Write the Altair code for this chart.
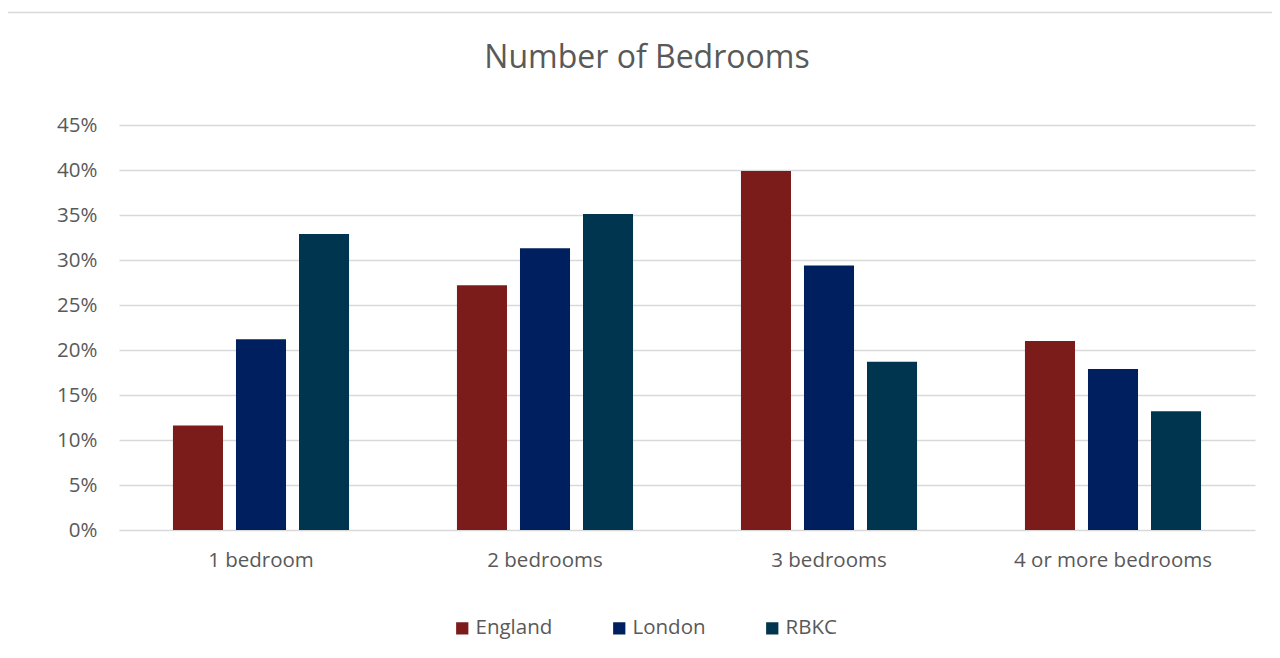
import altair as alt
import pandas as pd

categories = ["1 bedroom", "2 bedrooms", "3 bedrooms", "4 or more bedrooms"]
series = ["England", "London", "RBKC"]
england = [0.116, 0.272, 0.399, 0.210]
london = [0.212, 0.313, 0.294, 0.179]
rbkc = [0.329, 0.351, 0.187, 0.132]
colors = ["#7B1C1A", "#001F5F", "#00354F"]
y_ticks = [0, 0.05, 0.10, 0.15, 0.20, 0.25, 0.30, 0.35, 0.40, 0.45]
title_text = "Number of Bedrooms"

rows = []
for name, vals in zip(series, [england, london, rbkc]):
    for c, v in zip(categories, vals):
        rows.append({"category": c, "series": name, "value": v})
df = pd.DataFrame(rows)

FONT = "Open Sans"
TXT = "#595959"
FS = 20.5

bars = alt.Chart(df).mark_bar().encode(
    x=alt.X("category:N", sort=categories, title=None,
            scale=alt.Scale(paddingInner=0.38, paddingOuter=0.19),
            axis=alt.Axis(labelAngle=0, domain=False, ticks=False, labelPadding=20,
                          labelFontSize=FS, labelColor=TXT, labelFont=FONT, grid=False,
                          labelLimit=0)),
    xOffset=alt.XOffset("series:N", sort=series,
                        scale=alt.Scale(paddingInner=0.206, paddingOuter=0)),
    y=alt.Y("value:Q", title=None,
            scale=alt.Scale(domain=[0, 0.45], nice=False),
            axis=alt.Axis(values=y_ticks, format=".0%", domain=False, ticks=False,
                          labelPadding=22, labelFontSize=FS, labelColor=TXT,
                          labelFont=FONT, gridColor="#D9D9D9", gridWidth=1.5)),
    color=alt.Color("series:N", sort=series,
                    scale=alt.Scale(domain=series, range=colors),
                    legend=alt.Legend(title=None, orient="none", direction="horizontal",
                                      legendX=333, legendY=493, symbolType="square",
                                      symbolSize=150, symbolStrokeWidth=0,
                                      labelFontSize=FS, labelColor=TXT, labelFont=FONT,
                                      labelOffset=3, columnPadding=56)),
)

frame = alt.Chart(pd.DataFrame({"a": [0]})).mark_rect(
    fill=None, stroke="#D9D9D9", strokeWidth=1.5
).encode(
    x=alt.value(-113.5), x2=alt.value(1300), y=alt.value(-112.5), y2=alt.value(700)
)

title = alt.Chart(pd.DataFrame({"t": [title_text]})).mark_text(
    font=FONT, fontSize=32, color=TXT, align="center", baseline="alphabetic"
).encode(
    text="t:N", x=alt.value(528), y=alt.value(-57)
)

chart = alt.layer(frame, title, bars).properties(
    width=1136, height=405,
    autosize=alt.AutoSizeParams(type="none"),
    padding={"left": 111, "top": 117, "right": 17, "bottom": 120},
).configure_view(stroke=None)

chart.save("out.html", embed_options={"renderer": "svg", "actions": False})
